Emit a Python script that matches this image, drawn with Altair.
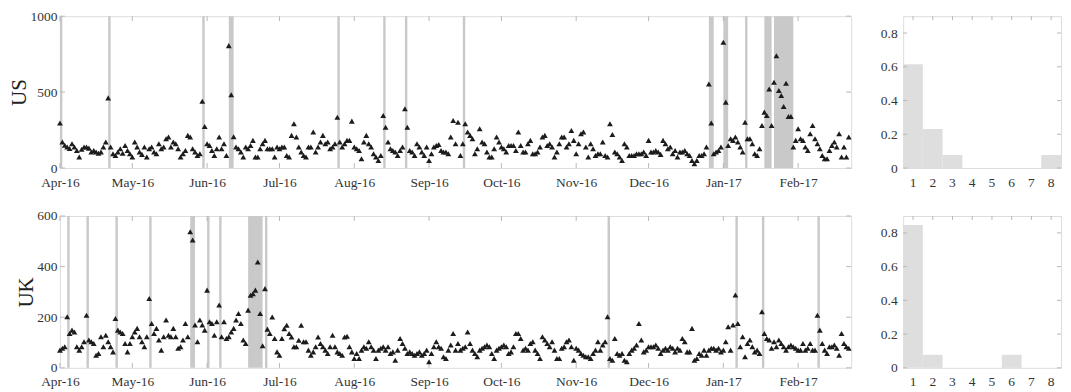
import altair as alt
import pandas as pd

START = "2016-04-01"
END = "2017-02-23"

# daily counts, one value per day from START
us_counts = (
    [296]
    + [171, 150, 138, 128, 160, 138, 116, 72, 123, 138, 138, 131, 105, 116, 105, 98, 105, 138, 171]
    + [462]
    + [138, 94, 83, 105, 127, 98, 149, 116, 94, 72, 171, 138, 105, 90, 138, 72, 127, 138, 105, 94,
       160, 127, 138, 193, 204, 138, 171, 160, 127, 72, 94, 116, 215, 204, 127, 105, 83, 94]
    + [440, 274]
    + [160, 149, 116, 83, 127, 204, 127, 160, 83]
    + [806, 482]
    + [206, 138, 127, 105, 72, 138, 127, 149, 182, 72, 72, 127, 160, 182, 127, 127, 127, 72, 138, 127,
       138, 138, 83, 72, 215, 291, 204, 138, 105, 83, 72, 138, 138, 237, 105, 138, 171, 215, 160, 171,
       127, 138, 160]
    + [335]
    + [171, 138, 160, 182, 182, 309, 138, 127, 116, 61, 171, 215, 160, 138, 94, 72, 50, 83]
    + [346, 269]
    + [171, 127, 116, 105, 83, 116, 138]
    + [390, 269]
    + [116, 105, 83, 160, 138, 105, 83, 138, 50, 94, 138, 149, 155, 116, 105, 105, 94, 204, 313, 160,
       302, 83]
    + [160, 291]
    + [237, 215, 193, 94, 127, 258, 171, 160, 105, 72,
       72, 127, 204, 171, 138, 127, 105, 149, 149, 149, 116,
       237, 149, 105, 105, 160, 182, 94, 94, 105, 138,
       204, 215, 149, 160, 138, 72, 105, 160, 204, 204, 138,
       160, 247, 182, 94, 160, 226, 237, 138, 72, 160,
       127, 83, 94, 94, 171, 83, 72, 291, 221, 105, 94,
       72, 50, 160, 138, 83, 83, 83, 94, 94, 94, 105,
       83, 182, 105, 105]
    + [116, 105, 90, 182, 160, 127, 138, 94, 116, 72, 105, 105, 116, 94, 83, 50, 28, 50, 83, 83,
       94, 138]
    + [554, 296]
    + [94, 105, 116, 138]
    + [828, 434]
    + [149, 193, 182, 204, 171, 138, 105]
    + [302]
    + [193, 193, 160, 94, 83, 127, 280]
    + [368, 346, 521]
    + [280]
    + [565, 740, 510, 477, 405, 558, 339, 339]
    + [138, 182, 258, 193, 182, 138, 116, 226, 280, 193, 160, 127, 83, 61, 61, 116, 149, 171, 138, 226,
       72, 138, 72, 204]
)

uk_counts = (
    [70, 77, 83, 202, 136, 149, 142, 83, 70, 83, 103, 208]
    + [110, 103, 96, 50, 57, 123, 83, 129, 103, 83, 63]
    + [195]
    + [149, 142, 136, 96, 63, 96, 123, 142, 156, 123, 103, 83, 123]
    + [274]
    + [175, 136, 156, 110, 70, 123, 189, 129, 123, 156, 123, 77, 83, 110, 175, 123]
    + [538, 505]
    + [169, 103, 189, 169, 149]
    + [307]
    + [182, 175, 129, 182]
    + [248]
    + [123, 182, 116, 123, 142, 156, 189, 215, 175, 110, 96]
    + [228, 287, 293, 307, 418, 215, 87, 313]
    + [153, 136, 201, 116, 63, 50, 116, 155, 168, 136, 122, 83, 83, 109, 168, 103, 103, 70, 50, 63,
       83, 122, 96, 83, 70, 57, 83, 129, 83, 63, 57, 50, 122, 125, 83, 63, 37]
    + [57, 37, 70, 83, 77, 103, 83, 70, 37, 70, 77, 83, 70, 83, 57, 63, 30, 70, 116, 96,
       77, 57, 63, 57, 50, 57, 63, 50, 57, 70, 24, 57, 83, 103, 83, 77, 44, 37, 70, 90, 136, 70]
    + [96, 70, 77, 83, 142, 96, 70, 57, 44, 70, 77, 83, 90, 83, 57, 37, 70, 77, 83, 90,
       83, 57, 63, 83, 136, 136, 116, 70, 77, 70, 96, 103, 70, 57, 37, 123, 110, 96, 83, 103,
       70, 37, 37, 77, 83, 103, 110, 83, 30, 77, 70, 57, 50, 44, 44, 37, 57, 70, 103, 70]
    + [90, 103, 202]
    + [37, 30, 116, 57, 50, 57, 30, 24, 57, 70, 77, 90, 175, 110, 63, 70, 83, 83]
    + [83, 90, 77, 57, 70, 77, 70, 83, 77, 63, 77, 70, 116, 103, 63, 63, 156, 30, 37, 57,
       50, 70, 50, 70, 77, 77, 70, 77, 63, 70, 103, 162, 70, 169]
    + [288]
    + [175, 83, 123, 44, 96, 110, 83, 63, 70, 57]
    + [222]
    + [136, 116, 110, 77, 103, 83, 110, 96, 83, 70, 83, 90, 83, 77, 70, 70, 96, 70, 77, 96, 70, 70]
    + [208]
    + [149, 96, 70, 57, 83, 83, 90, 77, 50, 136, 96, 83, 77]
)

# highlighted events: first day offset and length in days
us_event_start = [0, 20, 59, 70, 115, 134, 143, 167, 269, 275, 284, 292, 296]
us_event_days = [1, 1, 1, 2, 1, 1, 1, 1, 2, 2, 1, 3, 8]
uk_event_start = [3, 11, 23, 37, 54, 61, 66, 78, 85, 227, 280, 291, 314]
uk_event_days = [1, 1, 1, 1, 2, 1, 1, 6, 1, 1, 1, 1, 1]

month_ticks = ["2016-04-01", "2016-05-01", "2016-06-01", "2016-07-01", "2016-08-01", "2016-09-01",
               "2016-10-01", "2016-11-01", "2016-12-01", "2017-01-01", "2017-02-01"]
us_y_ticks = [0, 500, 1000]
uk_y_ticks = [0, 200, 400, 600]

hist_bins = [1, 2, 3, 4, 5, 6, 7, 8]
us_hist = [0.615, 0.231, 0.077, 0, 0, 0, 0, 0.077]
uk_hist = [0.846, 0.077, 0, 0, 0, 0.077, 0, 0]
hist_y_ticks = [0, 0.2, 0.4, 0.6, 0.8]

W_TS, H, W_H = 792, 152, 158
FONT = "Liberation Serif"
LFS = 13.5
FRAME = "#b9b9b9"
TICK = "#b9b9b9"
BAND = "#c9c9c9"


def dt(s):
    y, m, d = map(int, s.split("-"))
    return alt.DateTime(year=y, month=m, date=d, utc=True)


t0 = pd.Timestamp(START)
xscale = alt.Scale(type="utc", domain=[dt(START), dt(END)])
xaxis = alt.Axis(values=[dt(s) for s in month_ticks], format="%b-%y", title=None, grid=False,
                 domain=False, ticks=False, labelFont=FONT, labelFontSize=LFS, labelColor="#333",
                 labelPadding=7, labelFlush=False)


def ts_panel(counts, ev_start, ev_days, ymax, yticks, name):
    dates = pd.date_range(START, periods=len(counts), freq="D").strftime("%Y-%m-%d")
    df = pd.DataFrame({"date": dates, "v": counts})
    bdf = pd.DataFrame({
        "s": [(t0 + pd.Timedelta(days=s)).strftime("%Y-%m-%d") for s in ev_start],
        "e": [(t0 + pd.Timedelta(days=s + n)).strftime("%Y-%m-%d") for s, n in zip(ev_start, ev_days)],
    })
    tdf = pd.DataFrame({"d": month_ticks})
    ydf = pd.DataFrame({"v": yticks})
    yscale = alt.Scale(domain=[0, ymax])
    yaxis = alt.Axis(values=yticks, format="d", title=name, grid=False, domain=False, ticks=False,
                     labelFont=FONT, labelFontSize=LFS, labelColor="#333", labelPadding=3,
                     labelFlush=False,
                     titleFont=FONT, titleFontSize=21, titleFontWeight="normal", titleColor="#222",
                     titlePadding=0)
    bands = alt.Chart(bdf).mark_rect(color=BAND).encode(
        x=alt.X("s:T", scale=xscale, axis=xaxis), x2="e:T",
        y=alt.value(0), y2=alt.value(H))
    pts = alt.Chart(df).mark_point(shape="triangle-up", filled=True, color="#1c1c1c",
                                   size=34, opacity=1).encode(
        x=alt.X("date:T", scale=xscale, axis=xaxis),
        y=alt.Y("v:Q", scale=yscale, axis=yaxis))
    xt_top = alt.Chart(tdf).mark_rule(color=TICK).encode(
        x=alt.X("d:T", scale=xscale, axis=xaxis), y=alt.value(0), y2=alt.value(5))
    xt_bot = alt.Chart(tdf).mark_rule(color=TICK).encode(
        x=alt.X("d:T", scale=xscale, axis=xaxis), y=alt.value(H), y2=alt.value(H - 5))
    yt_l = alt.Chart(ydf).mark_rule(color=TICK).encode(
        y=alt.Y("v:Q", scale=yscale, axis=yaxis), x=alt.value(0), x2=alt.value(5))
    yt_r = alt.Chart(ydf).mark_rule(color=TICK).encode(
        y=alt.Y("v:Q", scale=yscale, axis=yaxis), x=alt.value(W_TS), x2=alt.value(W_TS - 5))
    return alt.layer(bands, xt_top, xt_bot, yt_l, yt_r, pts).properties(width=W_TS, height=H)


def hist_panel(vals):
    df = pd.DataFrame({"b": hist_bins, "p": vals})
    ydf = pd.DataFrame({"v": hist_y_ticks})
    xs = alt.Scale(paddingInner=0, paddingOuter=0)
    ys = alt.Scale(domain=[0, 0.9])
    xa = alt.Axis(title=None, labelAngle=0, grid=False, domain=False, ticks=False,
                  labelFont=FONT, labelFontSize=LFS, labelColor="#333", labelPadding=7)
    ya = alt.Axis(values=hist_y_ticks, format="~g", title=None, grid=False, domain=False, ticks=False,
                  labelFont=FONT, labelFontSize=LFS, labelColor="#333", labelPadding=6,
                  labelFlush=False)
    bars = alt.Chart(df).mark_bar(color="#dedede").encode(
        x=alt.X("b:O", scale=xs, axis=xa), y=alt.Y("p:Q", scale=ys, axis=ya))
    xt_top = alt.Chart(df).mark_rule(color=TICK).encode(
        x=alt.X("b:O", scale=xs, axis=xa), y=alt.value(0), y2=alt.value(4))
    yt_l = alt.Chart(ydf).mark_rule(color=TICK).encode(
        y=alt.Y("v:Q", scale=ys, axis=ya), x=alt.value(0), x2=alt.value(4))
    yt_r = alt.Chart(ydf).mark_rule(color=TICK).encode(
        y=alt.Y("v:Q", scale=ys, axis=ya), x=alt.value(W_H), x2=alt.value(W_H - 4))
    return alt.layer(bars, xt_top, yt_l, yt_r).properties(width=W_H, height=H)


chart = alt.concat(
    ts_panel(us_counts, us_event_start, us_event_days, 1000, us_y_ticks, "US"),
    hist_panel(us_hist),
    ts_panel(uk_counts, uk_event_start, uk_event_days, 600, uk_y_ticks, "UK"),
    hist_panel(uk_hist),
    columns=2, spacing={"row": 48, "column": 52}, bounds="flush",
).resolve_scale(x="independent", y="independent").properties(
    padding={"left": 0, "top": 0, "right": 1, "bottom": 2}
).configure_view(stroke=FRAME, strokeWidth=1.5).configure(background="white")

chart.save("out.html", embed_options={"renderer": "svg", "actions": False})
